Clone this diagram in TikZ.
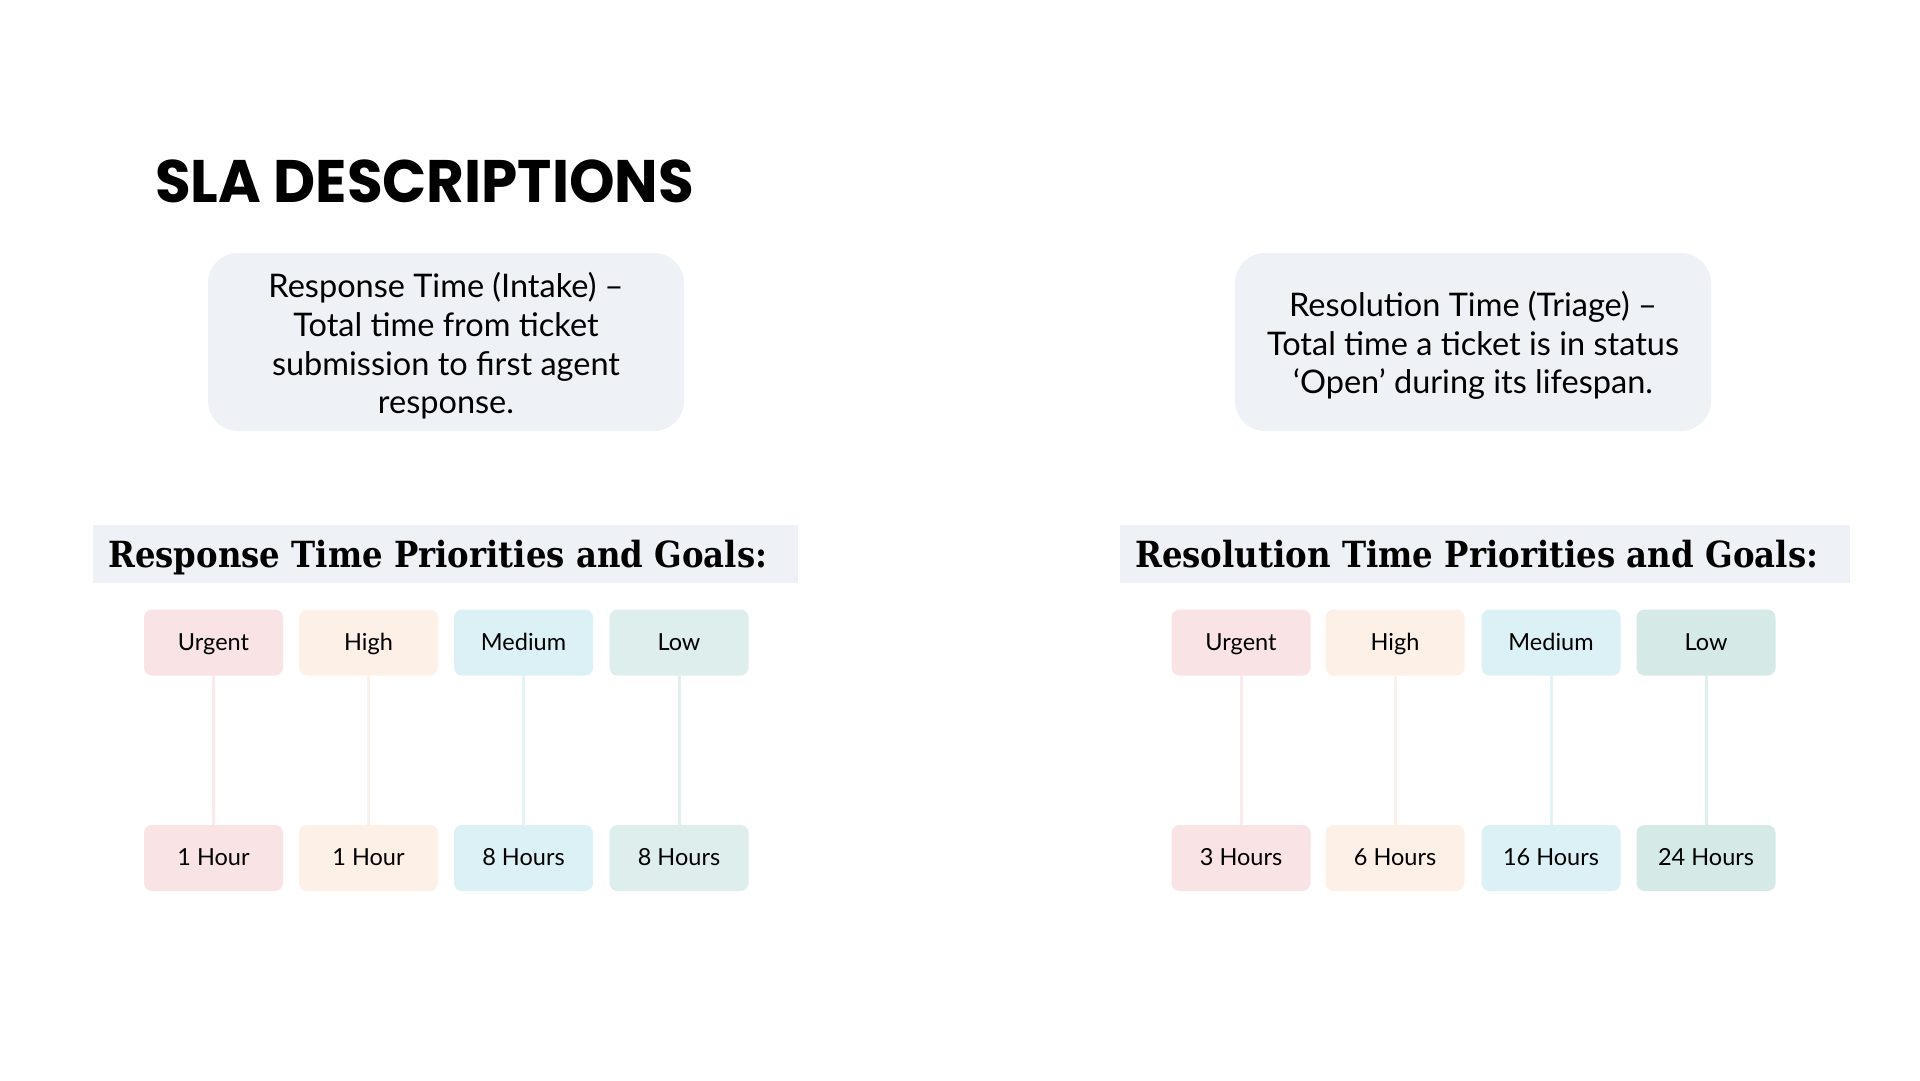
\documentclass[tikz,border=0pt]{standalone}
\usepackage{fontspec}
\usepackage{graphicx}
\setmainfont{Lato}
\newfontfamily\titlefont{Poppins}
\newfontfamily\slabfont{DejaVu Serif}
\definecolor{panel}{HTML}{EEF1F6}
\definecolor{urgentc}{HTML}{FAE3E4}
\definecolor{highc}{HTML}{FDF0E6}
\definecolor{mediumc}{HTML}{DCF1F5}
\definecolor{lowc}{HTML}{DDEEEC}
\definecolor{lowcb}{HTML}{D5EAE6}
\definecolor{urgentl}{HTML}{FBEAEB}
\definecolor{highl}{HTML}{FCF0EB}
\definecolor{mediuml}{HTML}{E1F3F7}
\definecolor{lowl}{HTML}{E0EFEE}
\tikzset{
  descbox/.style={fill=panel, rounded corners=30, minimum width=476, minimum height=178, inner sep=0},
  desctext/.style={align=center, inner sep=0, font=\fontsize{32.5}{38.6}\selectfont},
  hdrbar/.style={fill=panel, minimum height=58, inner sep=0, anchor=north west},
  hdrtext/.style={anchor=base west, inner sep=0, font=\slabfont\bfseries\fontsize{36}{40}\selectfont},
  pbox/.style={rounded corners=8, minimum width=139, minimum height=66, inner sep=0, text height=16, text depth=1,
    font=\fontsize{23.5}{26}\selectfont},
  urgentbox/.style={pbox, fill=urgentc},
  highbox/.style={pbox, fill=highc},
  mediumbox/.style={pbox, fill=mediumc},
  lowbox/.style={pbox, fill=lowc},
  lowboxb/.style={pbox, fill=lowcb},
  conn/.style={line width=3},
}
\begin{document}
\begin{tikzpicture}[x=1pt,y=-1pt]
\fill[white] (0,0) rectangle (1920,1080);
\useasboundingbox (0,0) rectangle (1920,1080);

\node[anchor=base west, inner sep=0] (title) at (155,202)
  {\resizebox{539pt}{\height}{\titlefont\bfseries\fontsize{60}{60}\selectfont SLA DESCRIPTIONS}};

\node[descbox] (respdesc) at (446,342) {};
\node[desctext] (respdesctxt) at (446,346)
  {Response Time (Intake) –\\Total time from ticket\\submission to first agent\\response.};
\node[descbox] (resodesc) at (1473,342) {};
\node[desctext] (resodesctxt) at (1473,345.5)
  {Resolution Time (Triage) –\\Total time a ticket is in status\\‘Open’ during its lifespan.};

\node[hdrbar, minimum width=705] (resphdr) at (93,525) {};
\node[hdrtext] (resphdrtxt) at (108,567) {\resizebox{659pt}{\height}{Response Time Priorities and Goals:}};
\node[hdrbar, minimum width=730] (resohdr) at (1120,525) {};
\node[hdrtext] (resohdrtxt) at (1135,567) {\resizebox{683pt}{\height}{Resolution Time Priorities and Goals:}};

% left set
\node[urgentbox] (lu) at (213.5,642.5) {Urgent};
\node[highbox]   (lh) at (368.5,642.5) {High};
\node[mediumbox] (lm) at (523.5,642.5) {Medium};
\node[lowbox]    (ll) at (679,642.5) {Low};
\node[urgentbox] (lu2) at (213.5,858) {1 Hour};
\node[highbox]   (lh2) at (368.5,858) {1 Hour};
\node[mediumbox] (lm2) at (523.5,858) {8 Hours};
\node[lowbox]    (ll2) at (679,858) {8 Hours};
\draw[conn, urgentl] (lu) -- (lu2);
\draw[conn, highl] (lh) -- (lh2);
\draw[conn, mediuml] (lm) -- (lm2);
\draw[conn, lowl] (ll) -- (ll2);

% right set
\node[urgentbox] (ru) at (1241,642.5) {Urgent};
\node[highbox]   (rh) at (1395,642.5) {High};
\node[mediumbox] (rm) at (1551,642.5) {Medium};
\node[lowboxb]   (rl) at (1706,642.5) {Low};
\node[urgentbox] (ru2) at (1241,858) {3 Hours};
\node[highbox]   (rh2) at (1395,858) {6 Hours};
\node[mediumbox] (rm2) at (1551,858) {16 Hours};
\node[lowboxb]   (rl2) at (1706,858) {24 Hours};
\draw[conn, urgentl] (ru) -- (ru2);
\draw[conn, highl] (rh) -- (rh2);
\draw[conn, mediuml] (rm) -- (rm2);
\draw[conn, lowl] (rl) -- (rl2);
\end{tikzpicture}
\end{document}
